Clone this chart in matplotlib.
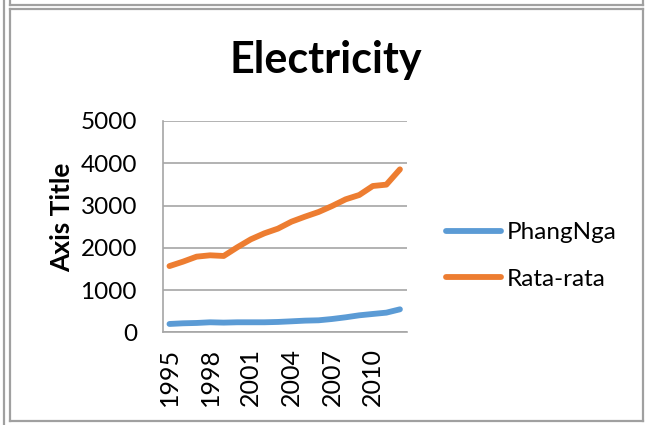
import matplotlib
matplotlib.use("Agg")

import matplotlib.pyplot as plt
from matplotlib.lines import Line2D

years = list(range(1995, 2013))
phangnga = [197, 213, 221, 237, 229, 237, 237, 237, 245, 260, 276, 284, 315, 355, 402, 434, 465, 544]
rata_rata = [1567, 1672, 1790, 1822, 1806, 2011, 2200, 2342, 2453, 2618, 2737, 2847, 2989, 3147, 3249, 3462, 3494, 3856]
tick_years = [1995, 1998, 2001, 2004, 2007, 2010]
y_ticks = [0, 1000, 2000, 3000, 4000, 5000]

BLUE = "#5B9BD5"
ORANGE = "#ED7D31"
GRID = "#A6A6A6"
FRAME = "#A0A0A0"

plt.rcParams["font.family"] = ["Lato", "DejaVu Sans"]

W, H = 647, 425
fig = plt.figure(figsize=(W / 100, H / 100), dpi=100)


def px(x, y):
    return x / W, 1 - y / H


# table border around the chart
def frame_line(x0, y0, x1, y1):
    (a, b), (c, d) = px(x0, y0), px(x1, y1)
    fig.add_artist(Line2D([a, c], [b, d], transform=fig.transFigure, color=FRAME, lw=1.6))


frame_line(3.5, 0, 3.5, H)
frame_line(9.5, 0, 9.5, 4.5)
frame_line(9.5, 4.5, 642.5, 4.5)
frame_line(642.5, 0, 642.5, 4.5)
frame_line(9.5, 9, 642.5, 9)
frame_line(9.5, 9, 9.5, 421)
frame_line(642.5, 9, 642.5, 421)
frame_line(9.5, 421, 642.5, 421)

left, top = px(162.7, 121)
right, bottom = px(406.7, 332.3)
ax = fig.add_axes([left, bottom, right - left, top - bottom])

idx = list(range(len(years)))
ax.plot(idx, phangnga, color=BLUE, lw=4.2, solid_capstyle="round", solid_joinstyle="round", label="PhangNga")
ax.plot(idx, rata_rata, color=ORANGE, lw=4.2, solid_capstyle="round", solid_joinstyle="round", label="Rata-rata")

ax.set_xlim(-0.5, len(years) - 0.5)
ax.set_ylim(0, 5000)
ax.set_yticks(y_ticks)
ax.set_yticklabels([str(v) for v in y_ticks], fontsize=17.5)
ax.set_xticks([years.index(y) for y in tick_years])
ax.set_xticklabels([str(y) for y in tick_years], rotation=90, fontsize=18)
ax.tick_params(axis="both", length=0)
ax.tick_params(axis="x", pad=11)
ax.tick_params(axis="y", pad=18.5)

ax.yaxis.grid(True, color=GRID, lw=1.2)
ax.set_axisbelow(True)
for side in ["top", "right"]:
    ax.spines[side].set_visible(False)
ax.spines["left"].set_color(GRID)
ax.spines["bottom"].set_color(GRID)
ax.spines["left"].set_linewidth(1.2)
ax.spines["bottom"].set_linewidth(1.2)

fig.text(*px(326, 60), "Electricity", fontsize=31, fontweight="bold", ha="center", va="center")
fig.text(*px(62, 217), "Axis Title", fontsize=19, fontweight="bold", rotation=90, ha="center", va="center")

fig.legend(loc="center left", bbox_to_anchor=px(446, 256), frameon=False, fontsize=17.5,
           borderpad=0, borderaxespad=0,
           handlelength=2.25, handletextpad=0.25, labelspacing=1.05)

fig.savefig("out.png", dpi=100)
